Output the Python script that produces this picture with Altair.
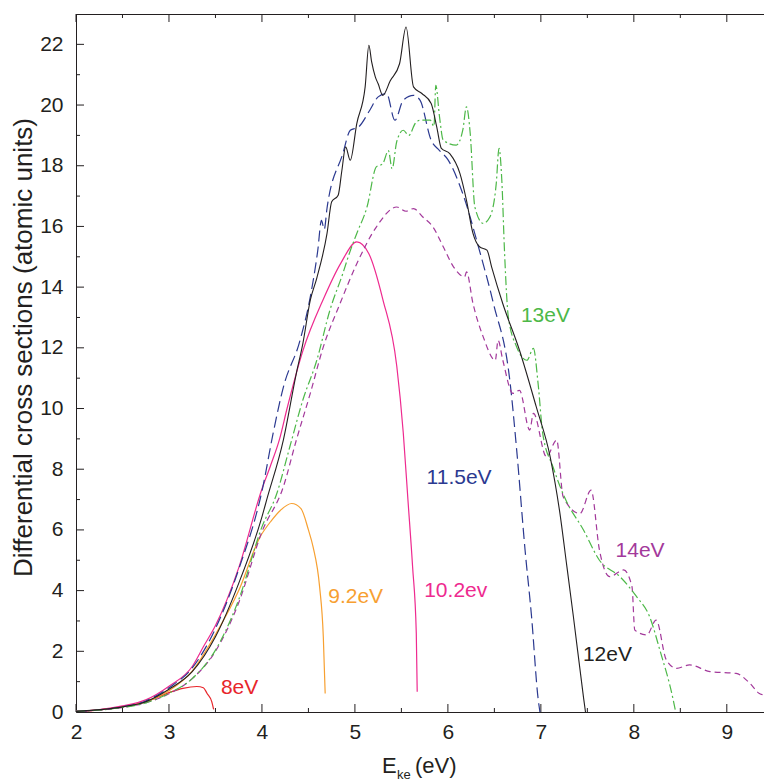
import altair as alt
import pandas as pd

# ---------------- data ----------------
e8_x = [2.0, 2.25, 2.5, 2.75, 3.0, 3.15, 3.3, 3.37, 3.41, 3.46, 3.48]
e8_y = [0.02, 0.07, 0.17, 0.33, 0.64, 0.78, 0.84, 0.80, 0.61, 0.34, 0.09]

e92_x = [2.0, 2.25, 2.5, 2.75, 3.0, 3.25, 3.5, 3.75, 3.98, 4.1, 4.2, 4.32, 4.42, 4.5, 4.55, 4.62, 4.66, 4.68]
e92_y = [0.02, 0.07, 0.17, 0.34, 0.7, 1.35, 2.55, 4.0, 5.77, 6.3, 6.65, 6.87, 6.7, 6.0, 5.44, 4.13, 2.48, 0.61]

e102_x = [2.0, 2.25, 2.5, 2.75, 3.0, 3.25, 3.37, 3.5, 3.75, 4.0, 4.09, 4.19, 4.27, 4.44, 4.66, 4.85,
          5.02, 5.15, 5.30, 5.45, 5.52, 5.57, 5.62, 5.66, 5.67]
e102_y = [0.02, 0.08, 0.2, 0.4, 0.85, 1.5, 2.15, 2.85, 4.75, 7.35, 8.1, 9.0, 10.0, 11.9, 13.6, 14.8,
          15.49, 15.1, 13.6, 11.4, 9.2, 7.0, 4.8, 2.6, 0.67]

e115_x = [2.0, 2.5, 2.75, 3.0, 3.25, 3.5, 3.75, 4.01, 4.12, 4.23, 4.41, 4.52, 4.6, 4.64, 4.67, 4.7,
          4.87, 4.95, 5.04, 5.16, 5.25, 5.34, 5.43, 5.52, 5.63, 5.70, 5.82, 5.91, 6.0, 6.16, 6.34,
          6.49, 6.67, 6.74, 6.83, 6.90, 6.97, 6.99]
e115_y = [0.02, 0.17, 0.36, 0.8, 1.45, 2.75, 4.7, 7.42, 9.18, 10.7, 12.25, 13.68, 15.2, 16.2, 15.9, 16.6,
          18.4, 19.17, 19.28, 19.83, 20.27, 20.38, 19.5, 20.16, 20.32, 20.16, 18.84, 18.5, 18.2, 17.08, 15.2,
          13.46, 10.83, 8.63, 5.34, 3.14, 0.45, 0.0]

e12_x = [2.0, 2.5, 2.75, 3.0, 3.25, 3.5, 3.75, 4.0, 4.05, 4.23, 4.37, 4.44, 4.52, 4.59, 4.70, 4.75,
         4.82, 4.86, 4.90, 4.95, 5.02, 5.11, 5.15, 5.18, 5.22, 5.25, 5.30, 5.38, 5.48, 5.55, 5.63,
         5.72, 5.82, 5.88, 5.93, 6.02, 6.13, 6.20, 6.27, 6.34, 6.42, 6.47, 6.59, 6.77, 6.95, 7.10,
         7.20, 7.28, 7.35, 7.46, 7.48]
e12_y = [0.02, 0.17, 0.34, 0.75, 1.33, 2.48, 4.24, 6.43, 6.98, 8.96, 11.16, 12.14, 13.57, 14.3, 15.77, 16.81,
         17.03, 17.85, 18.62, 18.18, 19.39, 20.6, 21.97, 21.42, 20.92, 20.7, 20.32, 20.8, 21.36, 22.57, 20.6,
         20.38, 20.05, 19.28, 18.57, 18.4, 17.74, 16.86, 15.77, 15.33, 15.22, 14.67, 13.46, 11.92, 10.06, 8.41,
         6.65, 4.79, 3.14, 0.45, 0.0]

e13_x = [2.0, 2.5, 2.75, 3.0, 3.25, 3.5, 3.75, 4.0, 4.16, 4.30, 4.44, 4.59, 4.73, 4.87, 4.95, 5.02,
         5.13, 5.23, 5.30, 5.36, 5.40, 5.45, 5.52, 5.58, 5.65, 5.70, 5.81, 5.85, 5.87, 5.91, 5.95,
         6.09, 6.16, 6.20, 6.24, 6.29, 6.38, 6.45, 6.52, 6.55, 6.58, 6.61, 6.65, 6.74, 6.85, 6.92,
         6.97, 7.02, 7.13, 7.26, 7.46, 7.63, 7.85, 8.03, 8.17, 8.28, 8.42, 8.45]
e13_y = [0.02, 0.15, 0.3, 0.62, 1.1, 2.04, 3.7, 6.1, 7.2, 8.74, 10.28, 11.59, 13.23, 14.45, 15.2, 15.77,
         16.64, 17.96, 18.07, 18.5, 17.9, 18.8, 19.17, 19.0, 19.4, 19.5, 19.5, 19.3, 20.65, 19.61, 18.84,
         18.68, 19.17, 19.94, 19.07, 16.64, 16.1, 16.3, 17.41, 18.57, 17.52, 15.1, 13.02, 12.03, 11.59, 11.98,
         10.83, 9.18, 8.08, 7.04, 5.99, 5.0, 4.46, 3.80, 3.14, 2.04, 0.45, 0.0]

e14_x = [2.0, 2.5, 2.75, 3.0, 3.25, 3.5, 3.75, 4.0, 4.23, 4.37, 4.52, 4.66, 4.84, 5.02, 5.23, 5.45,
         5.55, 5.63, 5.73, 5.84, 5.95, 6.06, 6.18, 6.20, 6.27, 6.38, 6.51, 6.54, 6.59, 6.70, 6.77,
         6.88, 6.92, 7.06, 7.17, 7.24, 7.42, 7.54, 7.63, 7.74, 7.89, 7.98, 8.01, 8.14, 8.24, 8.35,
         8.46, 8.60, 8.82, 9.10, 9.25, 9.35, 9.40]
e14_y = [0.02, 0.15, 0.3, 0.6, 1.1, 2.0, 3.6, 5.94, 7.42, 8.96, 10.5, 12.03, 13.46, 14.77, 15.98, 16.64,
         16.5, 16.59, 16.31, 15.98, 15.33, 14.67, 14.34, 14.5, 13.46, 12.36, 11.59, 12.25, 11.6, 10.5, 10.6,
         9.29, 9.84, 8.41, 8.96, 7.09, 6.54, 7.31, 5.34, 4.46, 4.68, 4.13, 2.70, 2.54, 3.03, 1.71,
         1.44, 1.55, 1.33, 1.27, 0.94, 0.61, 0.56]

label_text = ["13eV", "11.5eV", "14eV", "10.2ev", "9.2eV", "8eV", "12eV"]
label_x = [6.785, 5.771, 7.803, 5.745, 4.713, 3.559, 7.452]
label_y = [13.04, 7.72, 5.30, 3.99, 3.80, 0.79, 1.88]
label_color = ["#4db848", "#2b3990", "#a3399b", "#ee2a8f", "#f7a031", "#e8262b", "#231f20"]

x_major = [2, 3, 4, 5, 6, 7, 8, 9]
x_minor = [2.5, 3.5, 4.5, 5.5, 6.5, 7.5, 8.5]
y_major = [0, 2, 4, 6, 8, 10, 12, 14, 16, 18, 20, 22]
y_minor = [1, 3, 5, 7, 9, 11, 13, 15, 17, 19, 21]

# ---------------- chart ----------------
W, H = 688, 698
FONT = "Liberation Sans"
INK = "#231f20"

xscale = alt.Scale(domain=[2, 9.4], nice=False, zero=False)
yscale = alt.Scale(domain=[0, 23], nice=False, zero=False)
xaxis = alt.Axis(values=x_major, ticks=False, grid=False, title=None, labelFontSize=21, labelFont=FONT,
                 labelColor=INK, labelPadding=9, domainColor=INK, domainWidth=1, labelFlush=False)
yaxis = alt.Axis(values=y_major, ticks=False, grid=False, title="Differential cross sections (atomic units)",
                 labelFontSize=21, labelFont=FONT, labelColor=INK, labelPadding=13, domainColor=INK,
                 domainWidth=1, titleFontSize=26, titleFont=FONT, titleFontWeight="normal", titleColor=INK,
                 titlePadding=3, titleY=333, labelFlush=False)

series = [
    (e8_x, e8_y, "#e8262b", None, 1.2),
    (e92_x, e92_y, "#f7a031", None, 1.2),
    (e102_x, e102_y, "#ee2a8f", None, 1.2),
    (e115_x, e115_y, "#2b3990", [11, 5], 1.2),
    (e14_x, e14_y, "#a3399b", [6, 4], 1.2),
    (e13_x, e13_y, "#4db848", [9, 3, 2, 3], 1.2),
    (e12_x, e12_y, "#231f20", None, 1.1),
]

layers = []
for xs, ys, col, dash, sw in series:
    df = pd.DataFrame({"E": xs, "sigma": ys, "i": list(range(len(xs)))})
    kw = dict(color=col, strokeWidth=sw, clip=True, interpolate="monotone")
    if dash is not None:
        kw["strokeDash"] = dash
    layers.append(
        alt.Chart(df).mark_line(**kw).encode(
            x=alt.X("E:Q", scale=xscale, axis=xaxis),
            y=alt.Y("sigma:Q", scale=yscale, axis=yaxis),
            order="i:Q",
        )
    )

def tick_layer(vals, along, length, side):
    df = pd.DataFrame({"v": vals})
    m = alt.Chart(df).mark_rule(color=INK, strokeWidth=1)
    if along == "x":
        if side == "bottom":
            return m.encode(x=alt.X("v:Q", scale=xscale, axis=xaxis), y=alt.value(H), y2=alt.value(H - length))
        return m.encode(x=alt.X("v:Q", scale=xscale, axis=xaxis), y=alt.value(0), y2=alt.value(length))
    return m.encode(y=alt.Y("v:Q", scale=yscale, axis=yaxis), x=alt.value(0), x2=alt.value(length))

ticks = [
    tick_layer(x_major, "x", 8, "bottom"), tick_layer(x_minor, "x", 4, "bottom"),
    tick_layer(x_major, "x", 8, "top"), tick_layer(x_minor, "x", 4, "top"),
    tick_layer(y_major, "y", 8, "left"), tick_layer(y_minor, "y", 4, "left"),
]

top_border = alt.Chart(pd.DataFrame({"a": [0]})).mark_rule(color=INK, strokeWidth=1).encode(
    x=alt.value(0), x2=alt.value(W), y=alt.value(0.5)
)

lab_df = pd.DataFrame({"t": label_text, "E": label_x, "sigma": label_y})
labels = alt.Chart(lab_df).mark_text(align="left", baseline="middle", fontSize=21, font=FONT).encode(
    x=alt.X("E:Q", scale=xscale, axis=xaxis),
    y=alt.Y("sigma:Q", scale=yscale, axis=yaxis),
    text="t:N",
    color=alt.Color("t:N", scale=alt.Scale(domain=label_text, range=label_color), legend=None),
)

def title_piece(txt, px, py, size):
    return alt.Chart(pd.DataFrame({"t": [txt]})).mark_text(
        align="left", baseline="alphabetic", fontSize=size, font=FONT, color=INK
    ).encode(x=alt.value(px), y=alt.value(py), text="t:N")

xtitle = [
    title_piece("E", 306, 759, 22),
    title_piece("ke", 321, 765, 13),
    title_piece("(eV)", 339, 759, 22),
]

chart = alt.layer(*ticks, top_border, *layers, labels, *xtitle).properties(
    width=W, height=H,
    padding={"left": 76, "top": 14, "right": 0, "bottom": 70},
    autosize=alt.AutoSizeParams(type="none"),
    background="white",
).configure_view(stroke=None)

chart.save("out.html", embed_options={"renderer": "svg", "actions": False})
